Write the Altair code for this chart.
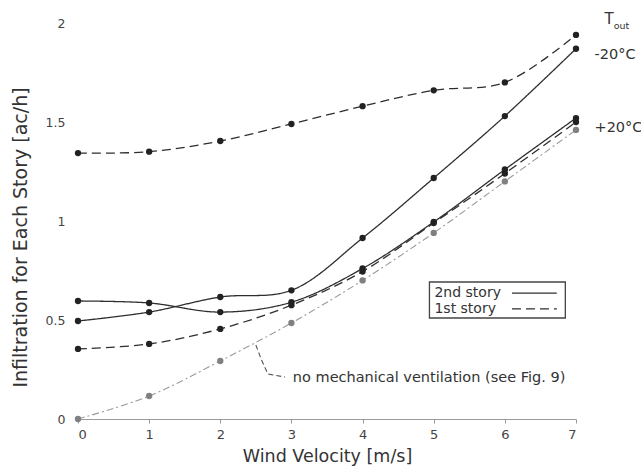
import altair as alt
import pandas as pd

# ---- data ----
wind = [0, 1, 2, 3, 4, 5, 6, 7]
cold_1st = [1.343, 1.35, 1.404, 1.49, 1.58, 1.66, 1.70, 1.94]
cold_2nd = [0.495, 0.54, 0.616, 0.65, 0.914, 1.217, 1.53, 1.87]
warm_2nd = [0.596, 0.586, 0.54, 0.59, 0.76, 0.995, 1.26, 1.52]
warm_1st = [0.354, 0.379, 0.455, 0.575, 0.745, 0.99, 1.24, 1.50]
no_mech = [0.0, 0.116, 0.293, 0.485, 0.70, 0.94, 1.20, 1.46]

y_ticks = [0, 0.5, 1, 1.5, 2]
x_ticks = [0, 1, 2, 3, 4, 5, 6, 7]

FONT = "DejaVu Sans"
INK = "#2e2e2e"

series = {
    "cold_1st": cold_1st,
    "cold_2nd": cold_2nd,
    "warm_2nd": warm_2nd,
    "warm_1st": warm_1st,
    "no_mech": no_mech,
}
styles = {
    "cold_1st": dict(color=INK, dash=[9, 5], pt="#222222", width=1.3),
    "cold_2nd": dict(color=INK, dash=[1, 0], pt="#222222", width=1.3),
    "warm_2nd": dict(color=INK, dash=[1, 0], pt="#222222", width=1.3),
    "warm_1st": dict(color=INK, dash=[9, 5], pt="#222222", width=1.3),
    "no_mech": dict(color="#9a9a9a", dash=[7, 3, 2, 3], pt="#808080", width=1.1),
}

rows = []
for name, vals in series.items():
    for xv, yv in zip(wind, vals):
        rows.append({"series": name, "x": xv, "y": yv})
df = pd.DataFrame(rows)

xscale = alt.Scale(domain=[0, 7], nice=False, zero=False)
yscale = alt.Scale(domain=[0, 2], nice=False, zero=False)

X = alt.X("x:Q", scale=xscale, axis=alt.Axis(
    values=x_ticks, title="Wind Velocity [m/s]", grid=False,
    domainColor="#9a9a9a", domainWidth=1, tickColor="#9a9a9a", tickSize=4,
    labelPadding=5, labelFont=FONT, labelFontSize=13, labelColor="#444",
    titleFont=FONT, titleFontSize=17.5, titleFontWeight="normal", titleColor="#333",
    titleY=37, titleBaseline="middle"))
Y = alt.Y("y:Q", scale=yscale, axis=alt.Axis(
    values=y_ticks, format="~g", title="Infiltration for Each Story [ac/h]", grid=False,
    domain=False, ticks=False, labelPadding=13, labelFont=FONT, labelFontSize=12.5,
    labelColor="#444", labelBaseline="middle",
    titleFont=FONT, titleFontSize=19, titleFontWeight="normal", titleColor="#333",
    titleX=-58, titleY=214, titleBaseline="middle", titleAngle=-90))

layers = []
for name in series:
    st = styles[name]
    base = alt.Chart(df).transform_filter(alt.datum.series == name)
    layers.append(base.mark_line(interpolate="catmull-rom", color=st["color"],
                                 strokeDash=st["dash"], strokeWidth=st["width"]).encode(x=X, y=Y))
    layers.append(base.mark_circle(size=40, opacity=1, color=st["pt"]).encode(x=X, y=Y))

# ---- annotations (data coordinates, same x/y fields so axes merge) ----
labels = pd.DataFrame({"t": ["-20°C", "+20°C"], "x": [7.26, 7.26], "y": [1.838, 1.47]})
layers.append(alt.Chart(labels).mark_text(align="left", baseline="middle", font=FONT,
                                          fontSize=14.5, color="#333").encode(
    x=X, y=Y, text="t:N"))

tout_T = pd.DataFrame({"t": ["T"], "x": [7.40], "y": [2.02]})
tout_s = pd.DataFrame({"t": ["out"], "x": [7.53], "y": [1.985]})
layers.append(alt.Chart(tout_T).mark_text(align="left", baseline="middle", font=FONT,
                                          fontSize=15, color="#333").encode(
    x=X, y=Y, text="t:N"))
layers.append(alt.Chart(tout_s).mark_text(align="left", baseline="middle", font=FONT,
                                          fontSize=9.5, color="#333").encode(
    x=X, y=Y, text="t:N"))

# legend box
box = pd.DataFrame({"x": [4.94], "x2": [6.85], "y": [0.51], "y2": [0.692]})
layers.append(alt.Chart(box).mark_rect(fill="white", fillOpacity=0, stroke="#444",
                                       strokeWidth=1.3).encode(
    x=X, x2="x2:Q", y=Y, y2="y2:Q"))
leg_txt = pd.DataFrame({"t": ["2nd story", "1st story"], "x": [5.01, 5.01],
                        "y": [0.636, 0.556]})
layers.append(alt.Chart(leg_txt).mark_text(align="left", baseline="middle", font=FONT,
                                           fontSize=14, color="#333").encode(
    x=X, y=Y, text="t:N"))
leg_solid = pd.DataFrame({"x": [6.10, 6.73], "y": [0.636, 0.636]})
leg_dash = pd.DataFrame({"x": [6.10, 6.73], "y": [0.556, 0.556]})
layers.append(alt.Chart(leg_solid).mark_line(color=INK, strokeWidth=1.3).encode(x=X, y=Y))
layers.append(alt.Chart(leg_dash).mark_line(color=INK, strokeWidth=1.3,
                                            strokeDash=[9, 5]).encode(x=X, y=Y))

# no mechanical ventilation note
note = pd.DataFrame({"t": ["no mechanical ventilation (see Fig. 9)"], "x": [3.02],
                     "y": [0.207]})
layers.append(alt.Chart(note).mark_text(align="left", baseline="middle", font=FONT,
                                        fontSize=14.5, color="#333").encode(
    x=X, y=Y, text="t:N"))
leader = pd.DataFrame({"x": [2.50, 2.58, 2.67, 2.91], "y": [0.374, 0.298, 0.227, 0.212],
                       "o": [0, 1, 2, 3]})
layers.append(alt.Chart(leader).mark_line(color="#555", strokeWidth=1.1,
                                          strokeDash=[5, 3]).encode(
    x=X, y=Y, order="o:Q"))

chart = alt.layer(*layers).properties(
    width=498, height=396,
    autosize=alt.AutoSizeParams(type="none"),
    padding={"left": 78, "top": 23, "right": 65, "bottom": 49},
    background="white",
).configure_view(stroke=None)

chart.save("out.html", embed_options={"renderer": "svg", "actions": False})
